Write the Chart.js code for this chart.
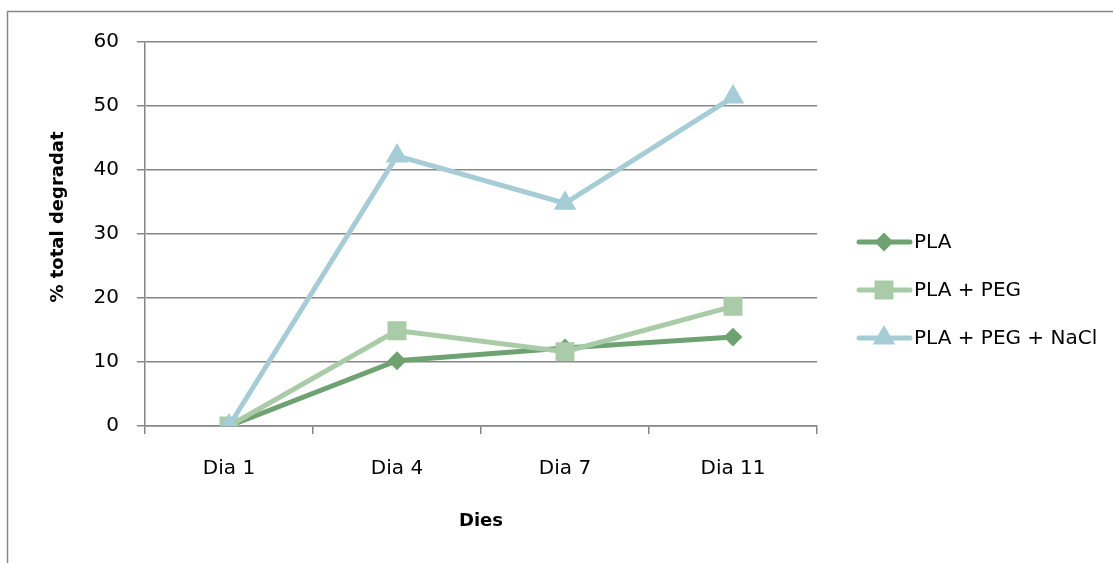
<!DOCTYPE html>
<html>
<head>
<meta charset="utf-8">
<script src="https://cdn.jsdelivr.net/npm/chart.js@4/dist/chart.umd.min.js"></script>
<style>
  html, body { margin: 0; padding: 0; background: #ffffff; }
  #wrap { position: relative; width: 1113px; height: 563px; }
</style>
</head>
<body>
<div id="wrap"><canvas id="c"></canvas></div>
<script>
// Degradation data (% total degradat) per sampling day
const categories = ['Dia 1', 'Dia 4', 'Dia 7', 'Dia 11'];
const pla = [0, 10.2, 12.2, 13.9];
const plaPeg = [0, 14.9, 11.6, 18.7];
const plaPegNacl = [0, 42.2, 34.8, 51.4];
const seriesNames = ['PLA', 'PLA + PEG', 'PLA + PEG + NaCl'];
const yMin = 0, yMax = 60, yStep = 10;

const FONT = '"DejaVu Sans", sans-serif';
const GRID = '#868686';
const colors = ['#6ea271', '#a9cba8', '#a6ccd5'];
const styles = ['rectRot', 'rect', 'triangle'];
const radii = [8, 12, 11];

function markerPath(ctx, style, x, y, r) {
  ctx.beginPath();
  if (style === 'rectRot') {
    ctx.moveTo(x, y - r); ctx.lineTo(x + r, y); ctx.lineTo(x, y + r); ctx.lineTo(x - r, y);
  } else if (style === 'rect') {
    const s = r * Math.SQRT1_2;
    ctx.rect(x - s, y - s, 2 * s, 2 * s);
  } else {
    const h = r * 1.5, half = r * Math.sqrt(3) / 2;
    ctx.moveTo(x, y - r); ctx.lineTo(x + half, y + h - r); ctx.lineTo(x - half, y + h - r);
  }
  ctx.closePath();
}

// Frame, vertical axis title and line+marker legend
const extras = {
  id: 'extras',
  afterDraw(chart) {
    const ctx = chart.ctx;
    ctx.save();
    ctx.strokeStyle = GRID;
    ctx.lineWidth = 1.5;
    ctx.strokeRect(7.5, 11.5, 1300, 700);

    ctx.translate(58, 217);
    ctx.rotate(-Math.PI / 2);
    ctx.fillStyle = '#000';
    ctx.font = 'bold 18px ' + FONT;
    ctx.textAlign = 'center';
    ctx.textBaseline = 'middle';
    ctx.fillText('% total degradat', 0, 0);
    ctx.restore();

    ctx.save();
    const ys = [242, 290, 338];
    seriesNames.forEach((name, i) => {
      const y = ys[i];
      ctx.strokeStyle = colors[i];
      ctx.lineWidth = 5;
      ctx.lineCap = 'round';
      ctx.beginPath(); ctx.moveTo(859, y); ctx.lineTo(910, y); ctx.stroke();
      ctx.fillStyle = colors[i];
      ctx.lineWidth = 2;
      ctx.lineCap = 'butt';
      markerPath(ctx, styles[i], 884, y, radii[i]);
      ctx.fill(); ctx.stroke();
      ctx.fillStyle = '#000';
      ctx.font = '20px ' + FONT;
      ctx.textAlign = 'left';
      ctx.textBaseline = 'middle';
      ctx.fillText(name, 914, y + 1);
    });
    ctx.restore();
  }
};

const data = [pla, plaPeg, plaPegNacl];
new Chart(document.getElementById('c'), {
  type: 'line',
  data: {
    labels: categories,
    datasets: seriesNames.map((name, i) => ({
      label: name,
      data: data[i],
      borderColor: colors[i],
      backgroundColor: colors[i],
      borderWidth: 5,
      pointStyle: styles[i],
      pointRadius: radii[i],
      pointHoverRadius: radii[i],
      pointBorderWidth: 2,
      pointBackgroundColor: colors[i],
      pointBorderColor: colors[i],
      tension: 0,
      fill: false,
      order: 3 - i
    }))
  },
  options: {
    responsive: true,
    maintainAspectRatio: false,
    animation: false,
    events: [],
    layout: { padding: { top: 42, right: 296, left: 0, bottom: 0 } },
    plugins: { legend: { display: false }, tooltip: { enabled: false } },
    scales: {
      x: {
        offset: true,
        afterFit(s) { s.height = 137; },
        grid: { offset: true, drawOnChartArea: false, drawTicks: true, tickLength: 8, color: GRID, lineWidth: 1.5 },
        border: { color: GRID, width: 1.5 },
        ticks: { color: '#000', font: { family: FONT, size: 20 }, padding: 23, maxRotation: 0 },
        title: { display: true, text: 'Dies', color: '#000', font: { family: FONT, size: 18, weight: 'bold' }, padding: { top: 0, bottom: 31 } }
      },
      y: {
        min: yMin, max: yMax,
        afterFit(s) { s.width = 145; },
        grid: { color: GRID, lineWidth: 1.5, drawTicks: true, tickLength: 8 },
        border: { color: GRID, width: 1.5 },
        ticks: { stepSize: yStep, color: '#000', font: { family: FONT, size: 20 }, padding: 18 }
      }
    }
  },
  plugins: [extras]
});
</script>
</body>
</html>
